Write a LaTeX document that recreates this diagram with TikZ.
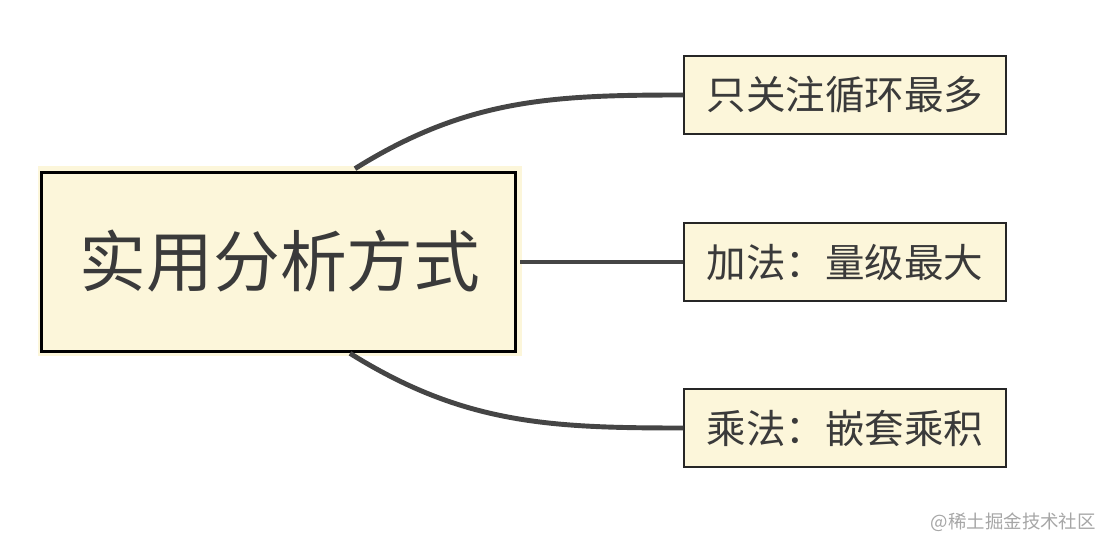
\documentclass[tikz,border=0pt]{standalone}
\usepackage{fontspec}
\setmainfont{Noto Sans CJK SC}
\usepackage{xcolor}
\usetikzlibrary{positioning}
\definecolor{paper}{HTML}{FCF6DA}
\definecolor{ink}{HTML}{3A3A3A}
\definecolor{wire}{HTML}{454545}

\begin{document}
\begin{tikzpicture}[
  x=0.02cm,y=-0.02cm,
  root/.style={fill=paper,minimum width=9.68cm,minimum height=3.8cm,inner sep=0pt,text=ink,font=\fontsize{38}{46}\selectfont},
  leaf/.style={draw=black!85,line width=0.8pt,fill=paper,minimum width=6.44cm,minimum height=1.56cm,inner sep=0pt,text=ink,font=\fontsize{22.5}{27}\selectfont},
  wirestyle/.style={draw=wire,line width=2.8pt}
]
\useasboundingbox (0,0) rectangle (1118,550);
\node[root] (main) at (280,261) {实用分析方式};
\draw[black,line width=1.6pt] ([xshift=0.08cm,yshift=-0.14cm]main.north west) rectangle ([xshift=-0.14cm,yshift=0.1cm]main.south east);
\node[leaf] (loop) at (845,95) {只关注循环最多};
\node[leaf] (add) at (845,262) {加法：量级最大};
\node[leaf] (mul) at (845,428) {乘法：嵌套乘积};
\draw[wirestyle] ([xshift=1.5cm,yshift=-0.06cm]main.north) to[out=32,in=180] (loop.west);
\draw[wirestyle] ([xshift=-0.04cm]main.east |- add.west) -- (add.west);
\draw[wirestyle] ([xshift=1.4cm,yshift=0.06cm]main.south) to[out=-32,in=180] (mul.west);
\node[text=black!35,font=\fontsize{10.5}{12}\selectfont,anchor=east] (mark) at (1102,522) {@稀土掘金技术社区};
\end{tikzpicture}
\end{document}
